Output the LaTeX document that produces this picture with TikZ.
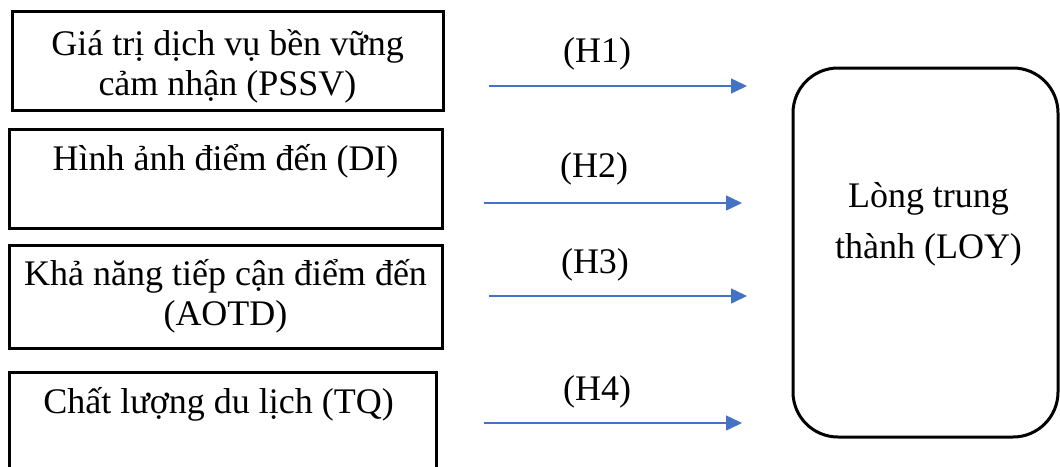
\documentclass[tikz,border=0pt]{standalone}
\usepackage{fontspec}
\setmainfont{Liberation Serif}
\usepackage{xcolor}
\usetikzlibrary{positioning,arrows.meta}
\definecolor{hypblue}{HTML}{4472C4}

\tikzset{
  factor/.style={draw, black, line width=3pt, inner sep=0pt},
  factortext/.style={inner sep=0pt, align=center, font=\fontsize{36}{40}\selectfont},
  hyp/.style={hypblue, line width=1.5pt, -{Triangle[length=16pt,width=15pt]}},
  hyplabel/.style={anchor=base, inner sep=0pt, font=\fontsize{36}{40}\selectfont},
}

\begin{document}
\begin{tikzpicture}[x=1pt, y=-1pt]
  \clip (0,0) rectangle (1060,466);
  % left column: the four factors
  \node[factor, minimum width=431pt, minimum height=99pt] (pssv) at (227.5,60.5) {};
  \node[factor, minimum width=433pt, minimum height=99pt] (di) at (225.5,178.5) {};
  \node[factor, minimum width=433pt, minimum height=103pt] (aotd) at (225.5,296.5) {};
  \node[factor, minimum width=427pt, minimum height=100pt] (tq) at (222.5,422) {};
  % base of a two-line text is its last line
  \node[factortext, below=86pt of pssv.north, anchor=base] (pssvtext) {Giá trị dịch vụ bền vững\\cảm nhận (PSSV)};
  \node[factortext, below=43pt of di.north, anchor=base] (ditext) {Hình ảnh điểm đến (DI)};
  \node[factortext, below=82pt of aotd.north, anchor=base] (aotdtext) {Khả năng tiếp cận điểm đến\\(AOTD)};
  \node[factortext, below=43pt of tq.north, anchor=base, xshift=-4pt] (tqtext) {Chất lượng du lịch (TQ)};
  % right: loyalty
  \node[factor, rounded corners=45pt, minimum width=265pt, minimum height=369pt] (loy) at (925.5,252.5) {};
  \node[factortext, font=\fontsize{36}{51}\selectfont, below=5.5pt of loy.center, anchor=base, xshift=3pt] (loytext) {Lòng trung\\thành (LOY)};
  % hypotheses
  \coordinate (h1s) at (489,86);
  \coordinate (h1e) at (747,86);
  \coordinate (h2s) at (484,203);
  \coordinate (h2e) at (742,203);
  \coordinate (h3s) at (489,296);
  \coordinate (h3e) at (747,296);
  \coordinate (h4s) at (484,423);
  \coordinate (h4e) at (742,423);
  \draw[hyp] (h1s) -- (h1e);
  \draw[hyp] (h2s) -- (h2e);
  \draw[hyp] (h3s) -- (h3e);
  \draw[hyp] (h4s) -- (h4e);
  \node[hyplabel] (lh1) at (597,62) {(H1)};
  \node[hyplabel] (lh2) at (594,177) {(H2)};
  \node[hyplabel] (lh3) at (595,273) {(H3)};
  \node[hyplabel] (lh4) at (597,400) {(H4)};
\end{tikzpicture}
\end{document}
